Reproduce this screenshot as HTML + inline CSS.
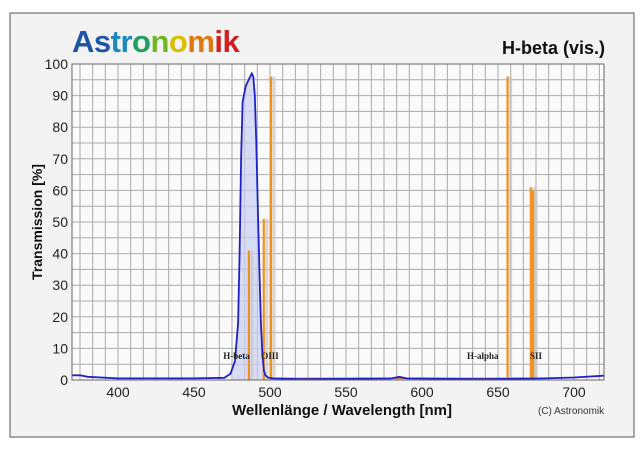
<!DOCTYPE html>
<html><head><meta charset="utf-8"><style>
body{margin:0;background:#fff;width:642px;height:444px;overflow:hidden;font-family:"Liberation Sans","DejaVu Sans",sans-serif}
</style></head><body>
<svg width="642" height="444" viewBox="0 0 642 444">
<defs><clipPath id="pc"><rect x="72" y="64" width="532" height="316"/></clipPath></defs>
<rect x="10" y="13" width="624" height="424" fill="#f3f3f3" stroke="#555" stroke-width="1"/>
<text x="72" y="52" font-size="31" font-weight="bold" style="letter-spacing:-0.5px"><tspan fill="#1e55a8">As</tspan><tspan fill="#1a8ac0">tr</tspan><tspan fill="#20a060">o</tspan><tspan fill="#70b820">n</tspan><tspan fill="#d8c000">o</tspan><tspan fill="#e07810">m</tspan><tspan fill="#d02020">ik</tspan></text>
<text x="605" y="54" font-size="18" font-weight="bold" text-anchor="end" fill="#111">H-beta (vis.)</text>
<rect x="72" y="64" width="532" height="316" fill="#fafafa"/>
<g id="grid" clip-path="url(#pc)"></g>
<g id="marks" clip-path="url(#pc)"></g>
<rect x="72" y="64" width="532" height="316" fill="none" stroke="#666"/>
<g id="axes"></g>
<text x="342" y="415" font-size="15" font-weight="bold" text-anchor="middle" fill="#111">Wellenlänge / Wavelength [nm]</text>
<text transform="translate(42,222) rotate(-90)" font-size="14" font-weight="bold" text-anchor="middle" fill="#111">Transmission [%]</text>
<text x="538" y="414" font-size="10" fill="#333">(C) Astronomik</text>
</svg>
<script>
const xTicks=[400,450,500,550,600,650,700];
const yTicks=[0,10,20,30,40,50,60,70,80,90,100];
const curveNm=[369,375,380,400,450,470,474,477,479,480,481,482,484,486,487,488,489,490,491,492,493,494,495,496,497,499,502,520,580,585,590,640,680,700,724];
const curveT=[1.5,1.5,1,0.5,0.5,0.7,2,6,18,40,70,88,93,95,96,97,96,90,75,55,35,18,8,3,1.5,0.7,0.5,0.3,0.5,1,0.5,0.3,0.5,0.8,1.5];
const lineNm=[486.1,495.9,500.7,656.3,671.6,673.1];
const lineT=[41,51,96,96,61,60];
const labels=["H-beta","OIII","H-alpha","SII"];
const labelNm=[478,500,640,675];
const NS="http://www.w3.org/2000/svg";
const X=v=>118+(v-400)*1.52, Y=v=>380-v*3.16;
function mk(t,a,p){const e=document.createElementNS(NS,t);for(const k in a)e.setAttribute(k,a[k]);p.appendChild(e);return e;}
const grid=document.getElementById('grid'),marks=document.getElementById('marks'),axes=document.getElementById('axes');
for(let v=350;v<=730;v+=50/6){if(X(v)<=72||X(v)>=604)continue;const l=mk('line',{x1:X(v),x2:X(v),y1:64,y2:380,stroke:'#aaa','stroke-width':1},grid);

}
for(let v=5;v<100;v+=5){const l=mk('line',{x1:72,x2:604,y1:Y(v),y2:Y(v),stroke:'#aaa','stroke-width':1},grid);

}
xTicks.forEach(v=>{const t=mk('text',{x:X(v),y:397,'font-size':14,'text-anchor':'middle',fill:'#222'},axes);t.textContent=v;

});
yTicks.forEach(v=>{const t=mk('text',{x:68,y:Y(v)+5,'font-size':14,'text-anchor':'end',fill:'#222'},axes);t.textContent=v;

});
let pts=curveNm.map((n,i)=>X(n).toFixed(1)+','+Y(curveT[i]).toFixed(1));
const fill=mk('polygon',{points:X(474)+','+Y(0)+' '+curveNm.map((n,i)=>n>=474&&n<=499?X(n)+','+Y(curveT[i]):null).filter(Boolean).join(' ')+' '+X(499)+','+Y(0),fill:'#c8cdf0','fill-opacity':0.7},marks);


const base=mk('line',{x1:X(500),x2:X(680),y1:Y(0.5),y2:Y(0.5),stroke:'#c07040','stroke-width':1.5},marks);


lineNm.forEach((n,i)=>{const s=mk('rect',{x:X(n)+1.5,y:Y(lineT[i]),width:3,height:Y(0)-Y(lineT[i]),fill:'#c8c8c8',opacity:0.7},marks);


const l=mk('line',{x1:X(n),x2:X(n),y1:Y(0),y2:Y(lineT[i]),stroke:'#f0901e','stroke-width':2.2},marks);

});
const c=mk('polyline',{points:pts.join(' '),fill:'none',stroke:'#2020c8','stroke-width':1.8},marks);


labels.forEach((s,i)=>{const t=mk('text',{x:X(labelNm[i]),y:359,'font-size':9,'font-weight':'bold','text-anchor':'middle',fill:'#222','font-family':'Liberation Serif, serif'},marks);t.textContent=s;

});
</script>
</body></html>
